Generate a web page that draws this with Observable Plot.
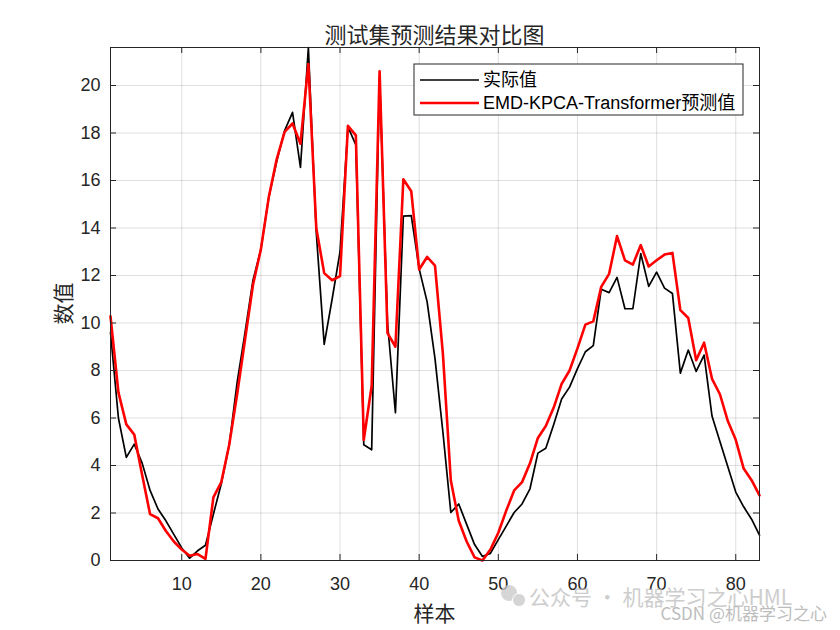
<!DOCTYPE html>
<html>
<head>
<meta charset="utf-8">
<script src="https://cdn.jsdelivr.net/npm/d3@7"></script>
<script src="https://cdn.jsdelivr.net/npm/@observablehq/plot@0.6"></script>
<style>
  html, body { margin: 0; padding: 0; background: white; }
</style>
</head>
<body>
<div id="chart"></div>
<script>
const samples = d3.range(1, 84);
const actual = [
  9.6, 6.0, 4.34, 4.9, 4.1, 2.95, 2.17, 1.67, 1.1, 0.53,
  0.1, 0.41, 0.64, 1.95, 3.23, 4.87, 7.5, 9.6, 11.8, 13.1,
  15.3, 16.8, 18.1, 18.87, 16.55, 21.6, 13.8, 9.1, 11.0, 13.0,
  18.26, 17.5, 4.87, 4.66, 20.4, 10.0, 6.22, 14.5, 14.52, 12.28,
  10.9, 8.5, 5.4, 2.02, 2.38, 1.52, 0.67, 0.17, 0.3, 0.88,
  1.45, 2.02, 2.38, 3.02, 4.52, 4.73, 5.73, 6.8, 7.3, 8.08,
  8.79, 9.05, 11.42, 11.28, 11.92, 10.6, 10.6, 12.92, 11.54, 12.14,
  11.47, 11.24, 7.89, 8.86, 7.96, 8.65, 6.08, 5.01, 3.95, 2.88,
  2.26, 1.74, 1.07
];
const predicted = [
  10.28, 7.08, 5.73, 5.3, 3.6, 1.95, 1.78, 1.24, 0.8, 0.46,
  0.2, 0.27, 0.07, 2.66, 3.3, 4.87, 7.0, 9.3, 11.6, 13.1,
  15.3, 16.9, 18.05, 18.4, 17.55, 20.9, 14.0, 12.1, 11.8, 11.97,
  18.3, 17.9, 5.08, 7.36, 20.6, 9.57, 9.0, 16.05, 15.55, 12.25,
  12.78, 12.42, 8.7, 3.37, 1.67, 0.8, 0.13, 0.0, 0.46, 1.17,
  2.1, 2.95, 3.3, 4.09, 5.16, 5.66, 6.44, 7.44, 8.0, 8.93,
  9.93, 10.07, 11.52, 12.07, 13.66, 12.64, 12.46, 13.28, 12.38, 12.64,
  12.88, 12.95, 10.54, 10.21, 8.43, 9.17, 7.65, 7.0, 5.87, 5.08,
  3.87, 3.38, 2.74
];
const xTicks = [10, 20, 30, 40, 50, 60, 70, 80];
const yTicks = [0, 2, 4, 6, 8, 10, 12, 14, 16, 18, 20];
const titleText = "测试集预测结果对比图";
const xLabel = "样本";
const yLabel = "数值";
const seriesNames = ["实际值", "EMD-KPCA-Transformer预测值"];
const seriesColors = ["#000000", "#ff0000"];
const seriesWidths = [1.7, 2.6];

const W = 840, H = 630;
const mL = 110, mR = 81, mT = 47, mB = 70;
const frameW = W - mL - mR, frameH = H - mT - mB;
const tick = 6;
const ink = "#262626";
const cjk = "'Noto Sans CJK SC', 'Noto Sans', sans-serif";
const latin = "'Liberation Sans', Arial, 'Noto Sans CJK SC', sans-serif";

const chart = Plot.plot({
  width: W, height: H,
  marginLeft: mL, marginRight: mR, marginTop: mT, marginBottom: mB,
  x: {domain: [1, 83]},
  y: {domain: [0, 21.6]},
  style: {fontFamily: latin, fontSize: "18px", color: ink, background: "white", overflow: "visible"},
  marks: [
    Plot.gridX(xTicks, {stroke: ink, strokeOpacity: 0.15}),
    Plot.gridY(yTicks, {stroke: ink, strokeOpacity: 0.15}),
    Plot.lineY(actual, {x: (d, i) => samples[i], y: d => d, stroke: seriesColors[0], strokeWidth: seriesWidths[0]}),
    Plot.lineY(predicted, {x: (d, i) => samples[i], y: d => d, stroke: seriesColors[1], strokeWidth: seriesWidths[1]}),
    Plot.ruleX(xTicks, {x: d => d, insetTop: frameH - tick, stroke: ink}),
    Plot.ruleX(xTicks, {x: d => d, insetBottom: frameH - tick, stroke: ink}),
    Plot.ruleY(yTicks, {y: d => d, insetRight: frameW - tick, stroke: ink}),
    Plot.ruleY(yTicks, {y: d => d, insetLeft: frameW - tick, stroke: ink}),
    Plot.frame({stroke: ink}),
    Plot.axisX(xTicks, {tickSize: 0, tickPadding: 17, label: null, fontSize: 18, fill: ink}),
    Plot.axisY(yTicks, {tickSize: 0, tickPadding: 10, label: null, fontSize: 18, fill: ink})
  ]
});

document.getElementById("chart").appendChild(chart);
const svg = d3.select(chart);

// Title
svg.append("text")
  .attr("x", mL + frameW / 2).attr("y", 33)
  .attr("text-anchor", "middle").attr("dominant-baseline", "central")
  .style("font-family", cjk).style("font-size", "22px").attr("fill", ink)
  .text(titleText);

// Axis labels
svg.append("text")
  .attr("x", mL + frameW / 2).attr("y", 612)
  .attr("text-anchor", "middle").attr("dominant-baseline", "central")
  .style("font-family", cjk).style("font-size", "21px").attr("fill", ink)
  .text(xLabel);
svg.append("text")
  .attr("transform", `translate(62,${mT + frameH / 2}) rotate(-90)`)
  .attr("text-anchor", "middle").attr("dominant-baseline", "central")
  .style("font-family", cjk).style("font-size", "21px").attr("fill", ink)
  .text(yLabel);

// Legend
const lg = svg.append("g");
lg.append("rect").attr("x", 414).attr("y", 64).attr("width", 329).attr("height", 51)
  .attr("fill", "white").attr("stroke", ink).attr("stroke-width", 1);
seriesNames.forEach((name, i) => {
  const yy = 80 + i * 23;
  lg.append("line").attr("x1", 420).attr("x2", 479).attr("y1", yy).attr("y2", yy)
    .attr("stroke", seriesColors[i]).attr("stroke-width", seriesWidths[i]);
  lg.append("text").attr("x", 483).attr("y", yy)
    .attr("text-anchor", "start").attr("dominant-baseline", "central")
    .style("font-family", latin).style("font-size", "18px").attr("fill", "#000")
    .text(name);
});

// Watermark
const wm = svg.append("g").attr("opacity", 0.75);
wm.append("circle").attr("cx", 509).attr("cy", 593).attr("r", 8).attr("fill", "#c8c8c8");
wm.append("circle").attr("cx", 519).attr("cy", 600).attr("r", 6.5).attr("fill", "#c8c8c8").attr("stroke", "white").attr("stroke-width", 1);
wm.append("text").attr("x", 529).attr("y", 596)
  .attr("text-anchor", "start").attr("dominant-baseline", "central")
  .style("font-family", cjk).style("font-size", "21px").attr("fill", "#bdbdbd")
  .text("公众号 · 机器学习之心HML");
wm.append("text").attr("x", 827).attr("y", 612)
  .attr("text-anchor", "end").attr("dominant-baseline", "central")
  .style("font-family", cjk).style("font-size", "17px").attr("fill", "#a8a8a8")
  .text("CSDN @机器学习之心");
</script>
</body>
</html>
